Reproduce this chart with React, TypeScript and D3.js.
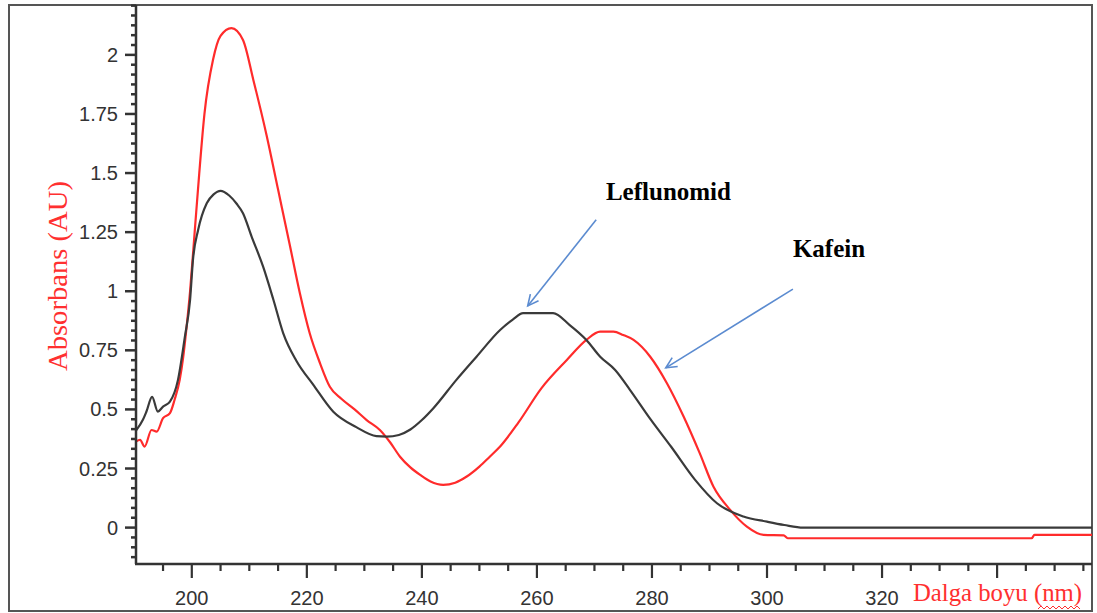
import React from 'react';
import * as d3 from 'd3';

// Kafein (red) spectrum
const kafeinNm = [190.3, 191.0, 191.8, 193.0, 193.9, 195.0, 196.2, 197.0, 197.9, 198.5, 199.1, 199.7, 200.5, 201.3, 202.2, 203.7, 205.0, 206.9, 208.9, 210.7, 213.0, 215.0, 217.0, 218.8, 220.5, 222.3, 224.0, 226.0, 228.3, 230.4, 232.7, 234.5, 236.2, 238.0, 239.7, 241.5, 243.7, 245.8, 247.8, 250.0, 251.8, 253.6, 256.8, 260.8, 265.2, 268.6, 271.0, 273.3, 275.0, 276.8, 279.7, 282.6, 285.5, 288.3, 290.7, 293.6, 296.5, 299.4, 302.9, 303.6, 346.0, 346.5, 356.5];
const kafeinAbs = [0.364, 0.371, 0.343, 0.413, 0.406, 0.463, 0.484, 0.54, 0.625, 0.72, 0.85, 1.0, 1.25, 1.5, 1.75, 1.98, 2.08, 2.113, 2.063, 1.894, 1.66, 1.43, 1.2, 0.99, 0.822, 0.695, 0.596, 0.545, 0.5, 0.455, 0.413, 0.36, 0.30, 0.255, 0.223, 0.195, 0.181, 0.19, 0.216, 0.258, 0.30, 0.343, 0.445, 0.59, 0.709, 0.794, 0.829, 0.829, 0.815, 0.794, 0.723, 0.611, 0.47, 0.315, 0.173, 0.075, 0.004, -0.031, -0.033, -0.045, -0.045, -0.031, -0.031];

// Leflunomid (black) spectrum
const leflunomidNm = [190.3, 191.5, 192.1, 193.1, 194.1, 195.0, 196.2, 197.6, 198.8, 199.7, 200.2, 201.1, 202.6, 203.8, 205.0, 206.5, 207.8, 208.9, 210.4, 212.4, 214.2, 215.9, 218.2, 221.1, 224.6, 228.6, 232.1, 233.9, 236.0, 238.0, 240.0, 242.0, 246.0, 249.5, 253.6, 255.8, 257.6, 262.8, 265.7, 268.6, 271.0, 273.6, 276.2, 279.7, 283.4, 287.5, 291.3, 295.9, 300.0, 303.0, 306.3, 356.5];
const leflunomidAbs = [0.41, 0.456, 0.49, 0.553, 0.491, 0.512, 0.533, 0.625, 0.808, 0.963, 1.132, 1.259, 1.372, 1.41, 1.425, 1.405, 1.37, 1.33, 1.231, 1.104, 0.963, 0.822, 0.705, 0.605, 0.49, 0.425, 0.387, 0.385, 0.392, 0.415, 0.455, 0.505, 0.625, 0.723, 0.836, 0.88, 0.907, 0.907, 0.857, 0.794, 0.723, 0.667, 0.582, 0.46, 0.34, 0.202, 0.103, 0.047, 0.025, 0.011, 0.0, 0.0];

const xMajorTicks = [200, 220, 240, 260, 280, 300, 320, 340];
const xTickLabels = ['200', '220', '240', '260', '280', '300', '320', ''];
const yMajorTicks = [0, 0.25, 0.5, 0.75, 1, 1.25, 1.5, 1.75, 2];
const yTickLabels = ['0', '0.25', '0.5', '0.75', '1', '1.25', '1.5', '1.75', '2'];

// annotations in data coordinates
const annotationNames = ['Leflunomid', 'Kafein'];
const annotationLabelPos = [[272.0, 1.386], [304.5, 1.145]];
const annotationArrowFrom = [[270.3, 1.302], [304.5, 1.009]];
const annotationArrowTo = [[258.4, 0.938], [282.4, 0.676]];

export default function App() {
  const W = 1097, H = 613;
  const x = d3.scaleLinear().domain([190.3, 356.5]).range([136, 1092]);
  const y = d3.scaleLinear().domain([-0.154, 2.211]).range([564, 5]);
  const line = d3.line<[number, number]>().x(d => x(d[0])).y(d => y(d[1])).curve(d3.curveMonotoneX);

  const kafein = kafeinNm.map((n, i) => [n, kafeinAbs[i]] as [number, number]);
  const lef = leflunomidNm.map((n, i) => [n, leflunomidAbs[i]] as [number, number]);

  const xMinor = d3.range(195, 357, 5).filter(v => !xMajorTicks.includes(v));
  const yMinor = d3.range(-3, 54).filter(k => k % 6 !== 0).map(k => (k * 0.25) / 6);

  const axisColor = '#333';
  const blue = '#5b8bd0';

  const arrowHead = (fx: number, fy: number, tx: number, ty: number) => {
    const ang = Math.atan2(ty - fy, tx - fx);
    const L = 12, a = 0.45;
    const p1 = [tx - L * Math.cos(ang - a), ty - L * Math.sin(ang - a)];
    const p2 = [tx - L * Math.cos(ang + a), ty - L * Math.sin(ang + a)];
    return `M${p1[0]},${p1[1]}L${tx},${ty}L${p2[0]},${p2[1]}`;
  };

  // wavy spell-check underline
  const squiggle = d3.range(0, 15).map(i => [1038 + i * 3, i % 2 === 0 ? 609 : 606] as [number, number]);

  return (
    <svg width={W} height={H} style={{ position: 'absolute', left: 0, top: 0, background: '#fff' }}>
      <rect x={0} y={0} width={W} height={H} fill="#fff" />
      {/* outer frame */}
      <rect x={9} y={5} width={1083} height={606} fill="none" stroke="#555" strokeWidth={2} />

      {/* curves */}
      <path d={line(kafein) || ''} fill="none" stroke="#ff2b2b" strokeWidth={2.2} />
      <path d={line(lef) || ''} fill="none" stroke="#3a3a3a" strokeWidth={2.2} />

      {/* y axis */}
      <line x1={x(190.3)} x2={x(190.3)} y1={5} y2={564} stroke={axisColor} strokeWidth={2.5} />
      {yMajorTicks.map((t, i) => (
        <g key={'ym' + i}>
          <line x1={125} x2={136} y1={y(t)} y2={y(t)} stroke={axisColor} strokeWidth={2.5} />
          <text x={118} y={y(t) + 7} textAnchor="end" fontFamily="'Liberation Sans', Arial, sans-serif" fontSize={20} fill="#333">{yTickLabels[i]}</text>
        </g>
      ))}
      {yMinor.map((t, i) => (
        <line key={'yn' + i} x1={131} x2={136} y1={y(t)} y2={y(t)} stroke={axisColor} strokeWidth={2.5} />
      ))}

      {/* x axis */}
      <line x1={135} x2={1092} y1={564} y2={564} stroke={axisColor} strokeWidth={2.5} />
      {xMajorTicks.map((t, i) => (
        <g key={'xm' + i}>
          <line x1={x(t)} x2={x(t)} y1={564} y2={578} stroke={axisColor} strokeWidth={2.2} />
          <text x={x(t)} y={605} textAnchor="middle" fontFamily="'Liberation Sans', Arial, sans-serif" fontSize={20} fill="#333">{xTickLabels[i]}</text>
        </g>
      ))}
      {xMinor.map((t, i) => (
        <line key={'xn' + i} x1={x(t)} x2={x(t)} y1={564} y2={571} stroke={axisColor} strokeWidth={2.2} />
      ))}

      {/* axis titles */}
      <text transform="translate(67,276) rotate(-90)" textAnchor="middle" fontFamily="'Liberation Serif', 'Times New Roman', serif" fontSize={27} fill="#ff3030" textLength={190} lengthAdjust="spacingAndGlyphs">Absorbans (AU)</text>
      <text x={913} y={601} fontFamily="'Liberation Serif', 'Times New Roman', serif" fontSize={25} fill="#ff3030" textLength={169} lengthAdjust="spacingAndGlyphs">Dalga boyu (nm)</text>
      <path d={d3.line()(squiggle) || ''} fill="none" stroke="#ff3030" strokeWidth={1} />

      {/* annotations */}
      {annotationNames.map((name, i) => {
        const fx = x(annotationArrowFrom[i][0]), fy = y(annotationArrowFrom[i][1]);
        const tx = x(annotationArrowTo[i][0]), ty = y(annotationArrowTo[i][1]);
        return (
          <g key={'an' + i}>
            <text x={x(annotationLabelPos[i][0])} y={y(annotationLabelPos[i][1])} fontFamily="'Liberation Serif', 'Times New Roman', serif" fontWeight="bold" fontSize={25} fill="#000">{name}</text>
            <line x1={fx} y1={fy} x2={tx} y2={ty} stroke={blue} strokeWidth={1.6} />
            <path d={arrowHead(fx, fy, tx, ty)} fill="none" stroke={blue} strokeWidth={1.6} />
          </g>
        );
      })}
    </svg>
  );
}
